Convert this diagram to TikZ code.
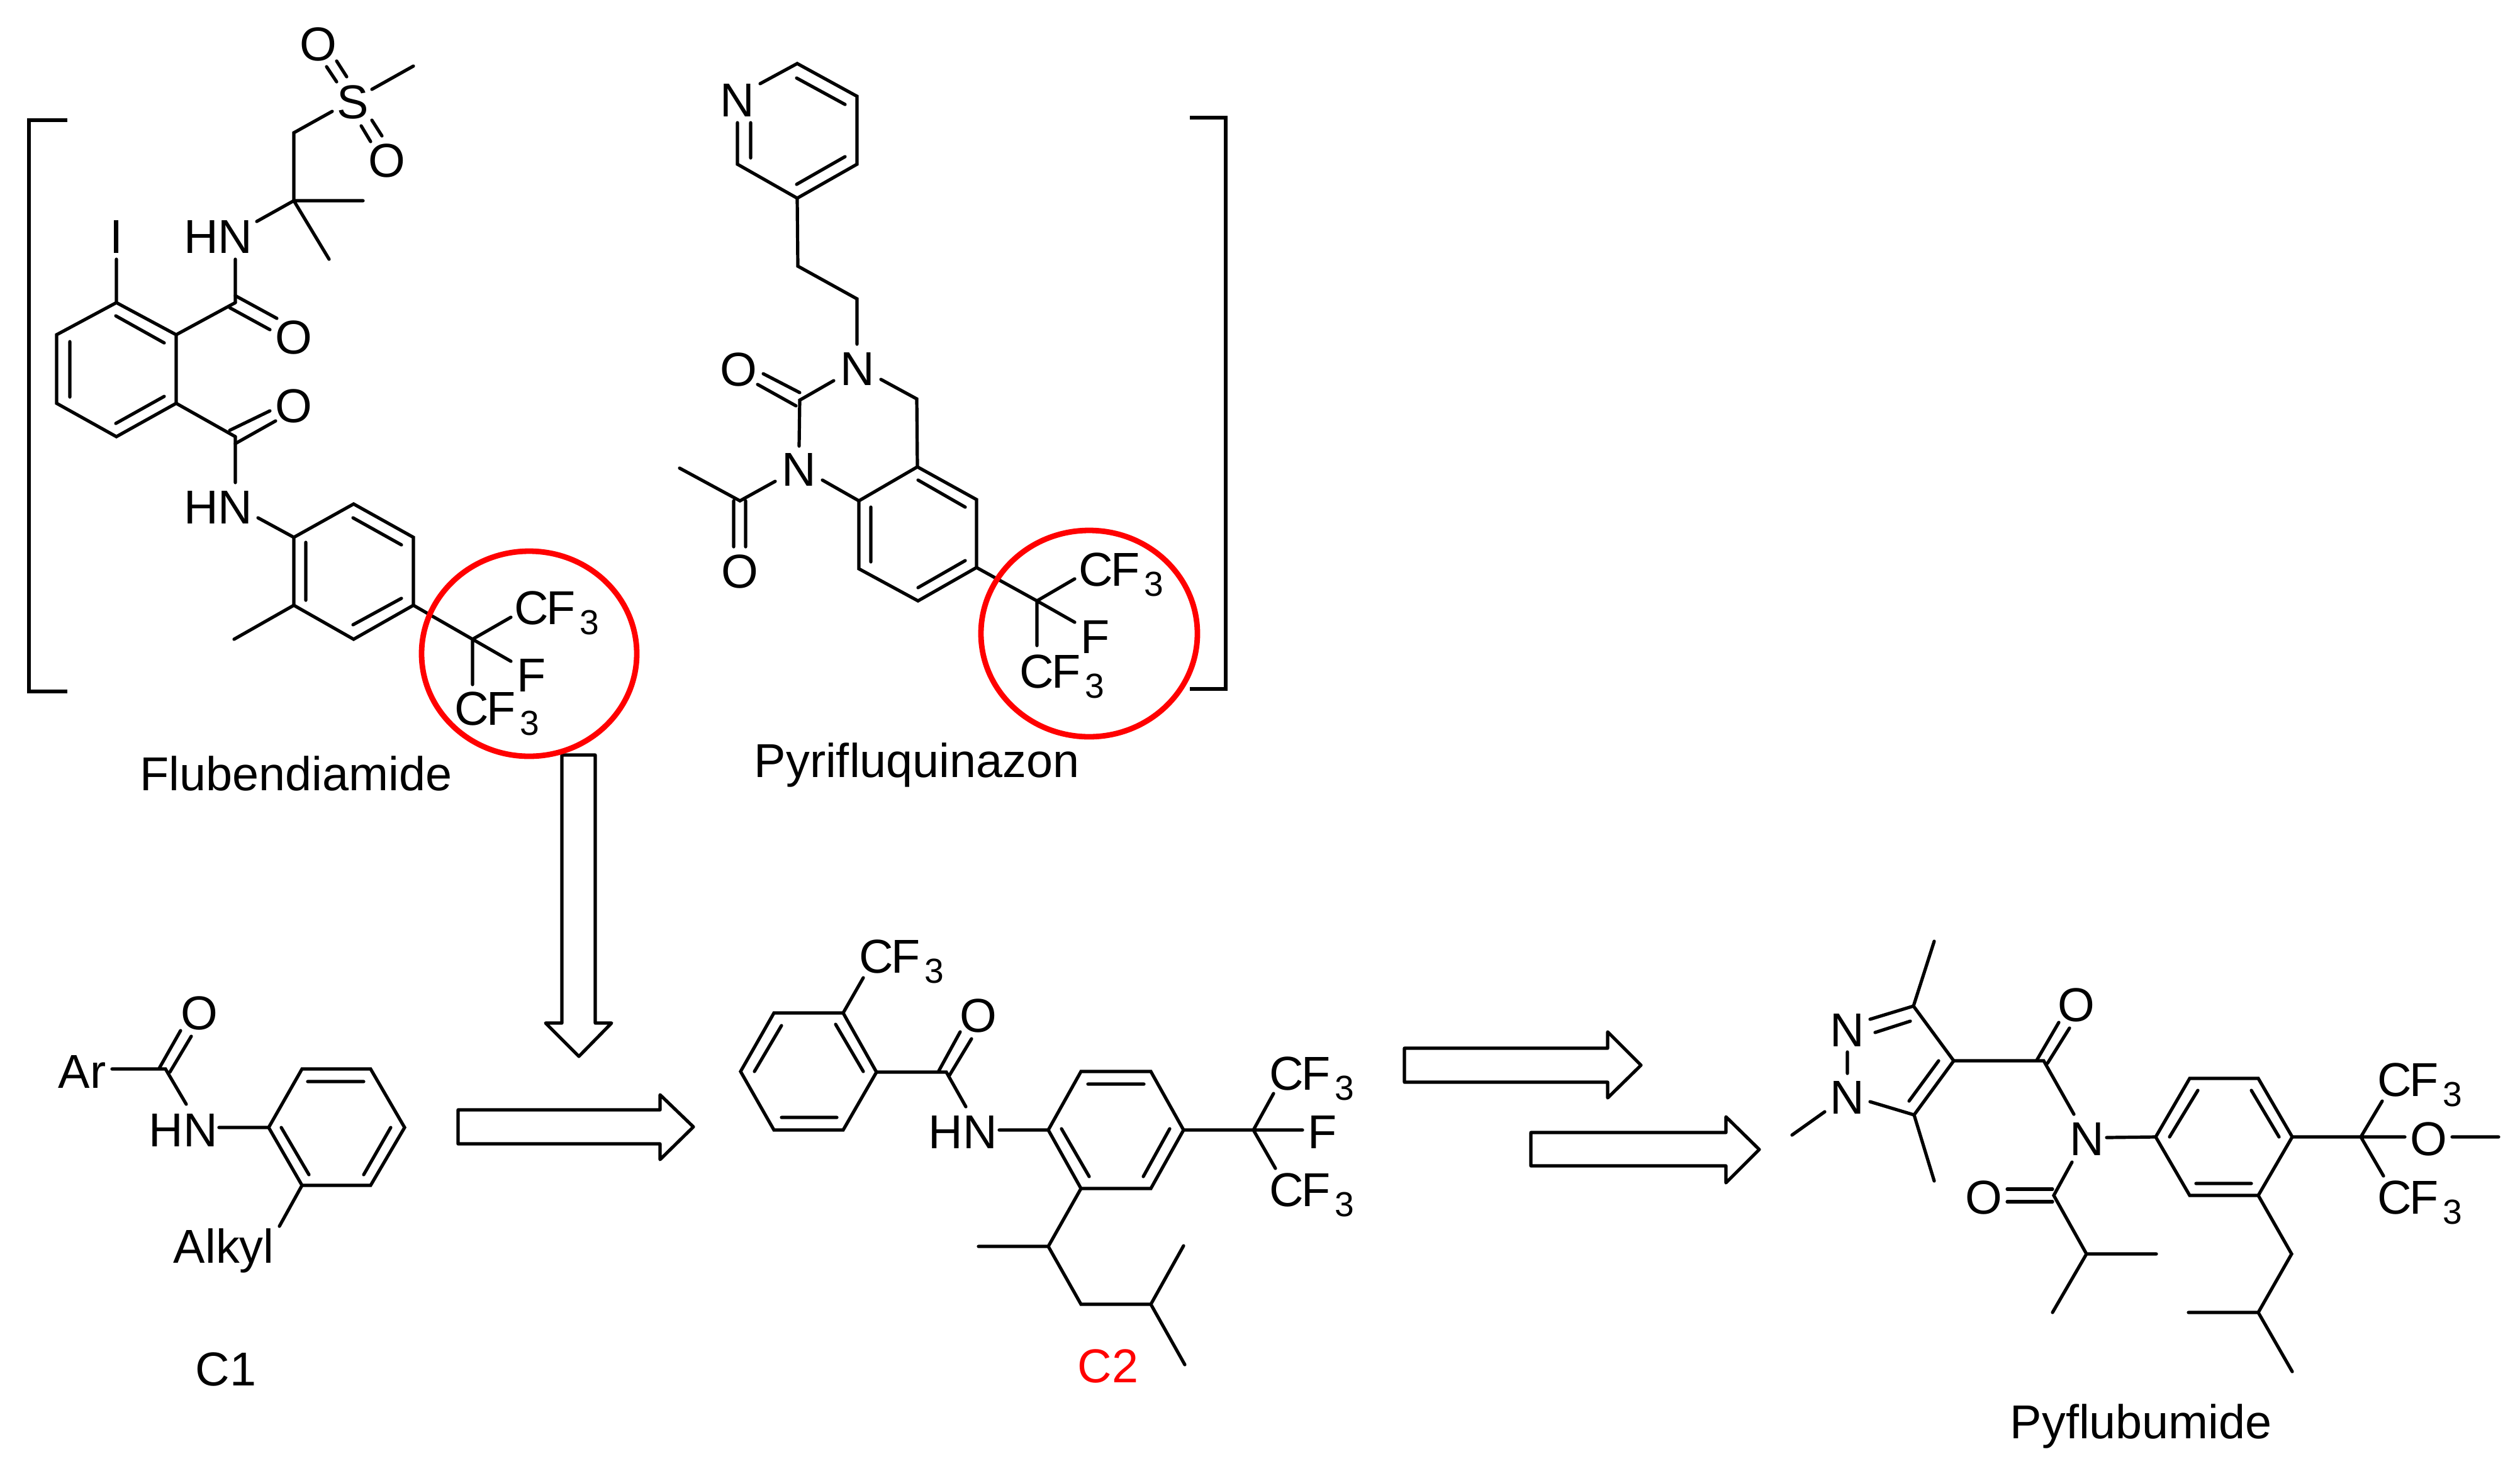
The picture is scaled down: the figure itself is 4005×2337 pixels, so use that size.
\documentclass[tikz,border=0pt]{standalone}
\usepackage{fontspec}
\setmainfont{Liberation Sans}
\newcommand{\cft}{C\kern-1pt F\kern1.7pt\raisebox{-4pt}{\fontsize{13.8}{13.8}\selectfont 3}}
\tikzset{
  bond/.style={line width=1.3pt,black,line cap=round},
  ringline/.style={bond,line join=miter},
  fatarrow/.style={line width=1.3pt,black,line join=round},
  redring/.style={draw=red,line width=2.2pt},
  atom/.style={inner sep=0pt,font=\fontsize{18.9}{18.9}\selectfont},
  lab/.style={inner sep=0pt,anchor=base west,font=\fontsize{18.9}{18.9}\selectfont},
}
\begin{document}
\begin{tikzpicture}[x=0.25pt,y=-0.25pt]
\path[fill=white,use as bounding box] (0,0) rectangle (4005,2337);
% ---------- named points ----------
\foreach \n/\a/\b in {
 Fa1/185/481,Fa2/280/532,Fa3/280/641,Fa4/185/694,Fa5/90/641,Fa6/90/532,
 Fd1/184/502,Fd2/261/545,Fd3/111/543,Fd4/111/631,Fd5/184/673,Fd6/261/630,
 FI/185/412,Fc1/374/481,Fc2/374/694,
 Fo1a/374/470,Fo1b/440/506,Fo1c/365/489,Fo1d/429/524,
 Fo2a/374/705,Fo2b/438/669,Fo2c/365/684,Fo2d/429/653,
 Fn1/374/412,Fn1b/408/352,Fq/467/319,Fm1/577/319,Fm2/523/412,Fch/467/211,Fs1/528/177,
 Fs2/591/142,Fsm/657/105,
 Fso1/535/97,Fso2/551/122,Fso3/519/106,Fso4/535/130,
 Fso5/591/191,Fso6/607/216,Fso7/574/200,Fso8/589/225,
 Fn2/374/767,Fn2b/410/823,
 Fb1/467/854,Fb2/562/801,Fb3/657/854,Fb4/657/962,Fb5/562/1016,Fb6/467/962,
 Fe1/561/823,Fe2/638/866,Fe3/486/862,Fe4/486/954,Fe5/561/993,Fe6/638/951,
 Fme/372/1016,Fcc/751/1016,Fcf1/812/981,Fcf2/812/1051,Fcf3/751/1088,
 Lb1/107/191,Lb2/46/191,Lb3/46/1099,Lb4/107/1099,
 Rb1/1891/187,Rb2/1948/187,Rb3/1948/1095,Rb4/1891/1095,
 Pa1/1172/261,Pa2/1172/195,Pa3/1208/133,Pa4/1267/101,Pa5/1362/153,Pa6/1362/261,Pa7/1267/315,
 Pd1/1193/195,Pd2/1193/251,Pd3/1266/124,Pd4/1343/166,Pd5/1266/293,Pd6/1343/249,
 Pc1/1268/423,Pc2/1362/475,Pc3/1362/547,
 Pn1/1325/605,Pco/1271/636,Po1/1271/624,Po2/1213/594,Po3/1265/645,Po4/1204/611,
 Pn2/1270/709,Pn3/1232/765,Pac/1176/796,Pme/1080/744,
 Pq1/1166/796,Pq2/1166/869,Pq3/1185/796,Pq4/1185/869,
 Pn4/1307/763,Pn5/1400/603,Pch/1457/634,
 Pb1/1458/742,Pb2/1552/794,Pb3/1552/902,Pb4/1459/955,Pb5/1365/904,Pb6/1365/796,
 Pe1/1459/763,Pe2/1534/806,Pe3/1384/806,Pe4/1384/893,Pe5/1459/934,Pe6/1534/891,
 Pcc/1648/955,Pcf1/1708/920,Pcf2/1708/989,Pcf3/1648/1026,
 Da1/893/1200,Da2/893/1626,Da3/867/1626,Da4/920/1679,Da5/972/1626,Da6/946/1626,Da7/946/1200,
 Ra1/728/1764,Ra2/1049/1764,Ra3/1049/1740,Ra4/1102/1791,Ra5/1049/1843,Ra6/1049/1818,Ra7/728/1818,
 Sa1/2232/1666,Sa2/2555/1666,Sa3/2555/1640,Sa4/2608/1693,Sa5/2555/1745,Sa6/2555/1720,Sa7/2232/1720,
 Ta1/2433/1800,Ta2/2743/1800,Ta3/2743/1775,Ta4/2796/1827,Ta5/2743/1880,Ta6/2743/1853,Ta7/2433/1853,
 Aar/178/1699,Ac/263/1699,Ao1/253/1698,Ao2/287/1638,Ao3/270/1704,Ao4/304/1647,An/296/1755,An2/348/1792,
 Ab1/427/1792,Ab2/480/1699,Ab3/589/1699,Ab4/643/1792,Ab5/589/1884,Ab6/480/1884,
 Ae1/489/1719,Ae2/578/1719,Ae3/621/1792,Ae4/578/1867,Ae5/447/1792,Ae6/491/1867,Aal/444/1949,
 Ba1/1177/1703,Ba2/1230/1610,Ba3/1340/1610,Ba4/1393/1704,Ba5/1340/1796,Ba6/1230/1796,
 Bd1/1199/1703,Bd2/1242/1630,Bd3/1328/1628,Bd4/1372/1703,Bd5/1242/1776,Bd6/1330/1776,
 Bcf/1372/1554,Bc/1504/1704,Bo1/1492/1702,Bo2/1526/1640,Bo3/1509/1709,Bo4/1544/1651,
 Bn1/1535/1759,Bn2/1588/1796,
 Bb1/1666/1796,Bb2/1718/1703,Bb3/1829/1703,Bb4/1881/1796,Bb5/1829/1889,Bb6/1718/1889,
 Be1/1729/1723,Be2/1818/1723,Be3/1859/1794,Be4/1817/1870,Be5/1687/1794,Be6/1731/1870,
 Bcc/1992/1796,Bf/2070/1796,Bcu/2024/1738,Bcd/2027/1857,
 Bk1/1666/1981,Bk2/1555/1981,Bk3/1718/2073,Bk4/1829/2073,Bk5/1881/1980,Bk6/1883/2169,
 Cn1/2936/1672,Cn2/2936/1706,Cd1/2972/1620,Cc3/3041/1599,Cd2/2980/1641,Cd3/3036/1623,
 Cc4/3105/1686,Cc5/3042/1772,Ci1/3081/1686,Ci2/3034/1750,Cn3/2972/1751,
 Cm1/3074/1496,Cm2/3074/1877,Cm3/2900/1767,Cm4/2848/1804,
 Cc6/3248/1686,Cq1/3237/1685,Cq2/3272/1625,Cq3/3254/1690,Cq4/3289/1634,Cn4/3296/1771,
 Cn5/3348/1808,Cn6/3293/1847,Cc7/3264/1900,
 Cq5/3190/1890,Cq6/3262/1890,Cq7/3190/1910,Cq8/3262/1910,
 Cch/3316/1993,Cm5/3427/1993,Cm6/3262/2086,
 Cb1/3426/1807,Cb2/3480/1714,Cb3/3589/1714,Cb4/3643/1807,Cb5/3589/1900,Cb6/3480/1900,
 Ce1/3493/1733,Ce2/3448/1807,Ce3/3578/1733,Ce4/3622/1807,Ce5/3490/1881,Ce6/3578/1881,
 Ccc/3752/1807,Co1/3822/1807,Co2/3897/1807,Co3/3971/1807,Ccu/3786/1750,Ccd/3788/1869,
 Ck1/3642/1993,Ck2/3589/2086,Ck3/3478/2086,Ck4/3643/2180
}{\coordinate (\n) at (\a,\b);}
% ---------- labels ----------
\node[atom] (FtI) at (185,376) {I};
\node[atom] (FtHN1) at (347,376) {HN};
\node[atom] (FtO1) at (467,536) {O};
\node[atom] (FtO2) at (467,645) {O};
\node[atom] (FtHN2) at (347,806) {HN};
\node[atom] (FtS) at (561,162) {S};
\node[atom] (FtO3) at (506,70) {O};
\node[atom] (FtO4) at (615,255) {O};
\node[lab] (FtC1) at (817,992) {\cft};
\node[atom] (FtF) at (845,1073) {F};
\node[lab] (FtC2) at (722,1152) {\cft};
\node[lab] (FtName) at (222,1256) {Flubendiamide};
\node[atom] (PtN1) at (1172,159) {N};
\node[atom] (PtN2) at (1363,586) {N};
\node[atom] (PtO1) at (1174,587) {O};
\node[atom] (PtN3) at (1270,746) {N};
\node[atom] (PtO2) at (1176,908) {O};
\node[lab] (PtC1) at (1714,931) {\cft};
\node[atom] (PtF) at (1741,1012) {F};
\node[lab] (PtC2) at (1620,1093) {\cft};
\node[lab] (PtName) at (1198,1235) {Pyrifluquinazon};
\node[lab] (AtAr) at (92,1729) {Ar};
\node[atom] (AtO) at (317,1610) {O};
\node[lab] (AtHN) at (236,1822) {HN};
\node[lab] (AtAl) at (275,2007) {Alkyl};
\node[lab] (AtName) at (310,2202) {C1};
\node[lab] (BtC1) at (1365,1546) {\cft};
\node[atom] (BtO) at (1555,1614) {O};
\node[lab] (BtHN) at (1475,1825) {HN};
\node[lab] (BtC2) at (2017,1732) {\cft};
\node[lab] (BtF) at (2078,1825) {F};
\node[lab] (BtC3) at (2017,1917) {\cft};
\node[lab,text=red] (BtName) at (1712,2197) {C2};
\node[atom] (CtN1) at (2936,1637) {N};
\node[atom] (CtN2) at (2936,1744) {N};
\node[atom] (CtO1) at (3300,1597) {O};
\node[atom] (CtN3) at (3317,1810) {N};
\node[atom] (CtO2) at (3153,1903) {O};
\node[atom] (CtO3) at (3860,1810) {O};
\node[lab] (CtC1) at (3778,1742) {\cft};
\node[lab] (CtC2) at (3778,1929) {\cft};
\node[lab] (CtName) at (3194,2286) {Pyflubumide};
% ---------- brackets ----------
\draw[ringline,line cap=butt] (Lb1)--(Lb2)--(Lb3)--(Lb4);
\draw[ringline,line cap=butt] (Rb1)--(Rb2)--(Rb3)--(Rb4);
% ---------- Flubendiamide ----------
\draw[ringline] (Fa1)--(Fa2)--(Fa3)--(Fa4)--(Fa5)--(Fa6)--cycle;
\draw[bond] (Fd1)--(Fd2) (Fd3)--(Fd4) (Fd5)--(Fd6);
\draw[bond] (Fa1)--(FI) (Fa2)--(Fc1) (Fa3)--(Fc2);
\draw[bond] (Fo1a)--(Fo1b) (Fo1c)--(Fo1d) (Fo2a)--(Fo2b) (Fo2c)--(Fo2d);
\draw[bond] (Fc1)--(Fn1) (Fn1b)--(Fq)--(Fm1) (Fq)--(Fm2);
\draw[ringline] (Fq)--(Fch)--(Fs1);
\draw[bond] (Fs2)--(Fsm) (Fso1)--(Fso2) (Fso3)--(Fso4) (Fso5)--(Fso6) (Fso7)--(Fso8);
\draw[bond] (Fc2)--(Fn2) (Fn2b)--(Fb1);
\draw[ringline] (Fb1)--(Fb2)--(Fb3)--(Fb4)--(Fb5)--(Fb6)--cycle;
\draw[bond] (Fe1)--(Fe2) (Fe3)--(Fe4) (Fe5)--(Fe6);
\draw[bond] (Fb6)--(Fme) (Fb4)--(Fcc) (Fcc)--(Fcf1) (Fcc)--(Fcf2) (Fcc)--(Fcf3);
% ---------- Pyrifluquinazon ----------
\draw[ringline] (Pa2)--(Pa1)--(Pa7)--(Pa6)--(Pa5)--(Pa4)--(Pa3);
\draw[bond] (Pd1)--(Pd2) (Pd3)--(Pd4) (Pd5)--(Pd6);
\draw[ringline] (Pa7)--(Pc1)--(Pc2)--(Pc3);
\draw[bond] (Pn1)--(Pco)--(Pn2) (Po1)--(Po2) (Po3)--(Po4);
\draw[bond] (Pn3)--(Pac)--(Pme) (Pq1)--(Pq2) (Pq3)--(Pq4);
\draw[bond] (Pn4)--(Pb6);
\draw[ringline] (Pn5)--(Pch)--(Pb1);
\draw[ringline] (Pb1)--(Pb2)--(Pb3)--(Pb4)--(Pb5)--(Pb6)--cycle;
\draw[bond] (Pe1)--(Pe2) (Pe3)--(Pe4) (Pe5)--(Pe6);
\draw[bond] (Pb3)--(Pcc) (Pcc)--(Pcf1) (Pcc)--(Pcf2) (Pcc)--(Pcf3);
% ---------- arrows ----------
\draw[fatarrow] (Da1)--(Da2)--(Da3)--(Da4)--(Da5)--(Da6)--(Da7)--cycle;
\draw[fatarrow] (Ra1)--(Ra2)--(Ra3)--(Ra4)--(Ra5)--(Ra6)--(Ra7)--cycle;
\draw[fatarrow] (Sa1)--(Sa2)--(Sa3)--(Sa4)--(Sa5)--(Sa6)--(Sa7)--cycle;
\draw[fatarrow] (Ta1)--(Ta2)--(Ta3)--(Ta4)--(Ta5)--(Ta6)--(Ta7)--cycle;
% ---------- C1 ----------
\draw[bond] (Aar)--(Ac)--(An) (Ao1)--(Ao2) (Ao3)--(Ao4) (An2)--(Ab1);
\draw[ringline] (Ab1)--(Ab2)--(Ab3)--(Ab4)--(Ab5)--(Ab6)--cycle;
\draw[bond] (Ae1)--(Ae2) (Ae3)--(Ae4) (Ae5)--(Ae6) (Ab6)--(Aal);
% ---------- C2 ----------
\draw[ringline] (Ba1)--(Ba2)--(Ba3)--(Ba4)--(Ba5)--(Ba6)--cycle;
\draw[bond] (Bd1)--(Bd2) (Bd3)--(Bd4) (Bd5)--(Bd6) (Ba3)--(Bcf);
\draw[bond] (Ba4)--(Bc)--(Bn1) (Bo1)--(Bo2) (Bo3)--(Bo4) (Bn2)--(Bb1);
\draw[ringline] (Bb1)--(Bb2)--(Bb3)--(Bb4)--(Bb5)--(Bb6)--cycle;
\draw[bond] (Be1)--(Be2) (Be3)--(Be4) (Be5)--(Be6);
\draw[bond] (Bb4)--(Bf) (Bcc)--(Bcu) (Bcc)--(Bcd);
\draw[ringline] (Bb6)--(Bk1)--(Bk3)--(Bk4)--(Bk5) (Bk1)--(Bk2) (Bk4)--(Bk6);
% ---------- Pyflubumide ----------
\draw[bond] (Cn1)--(Cn2) (Cd2)--(Cd3) (Ci1)--(Ci2) (Cm3)--(Cm4);
\draw[ringline] (Cd1)--(Cc3)--(Cc4)--(Cc5)--(Cn3);
\draw[bond] (Cc3)--(Cm1) (Cc5)--(Cm2) (Cc4)--(Cc6)--(Cn4);
\draw[bond] (Cq1)--(Cq2) (Cq3)--(Cq4) (Cn5)--(Cb1);
\draw[ringline] (Cn6)--(Cc7)--(Cch)--(Cm5) (Cch)--(Cm6);
\draw[bond] (Cq5)--(Cq6) (Cq7)--(Cq8);
\draw[ringline] (Cb1)--(Cb2)--(Cb3)--(Cb4)--(Cb5)--(Cb6)--cycle;
\draw[bond] (Ce1)--(Ce2) (Ce3)--(Ce4) (Ce5)--(Ce6);
\draw[bond] (Cb4)--(Co1) (Co2)--(Co3) (Ccc)--(Ccu) (Ccc)--(Ccd);
\draw[ringline] (Cb5)--(Ck1)--(Ck2)--(Ck3) (Ck2)--(Ck4);
% ---------- red rings ----------
\draw[redring] (841,1039) ellipse [x radius=171,y radius=163];
\draw[redring] (1731,1007) ellipse [x radius=172,y radius=164];
\end{tikzpicture}
\end{document}
